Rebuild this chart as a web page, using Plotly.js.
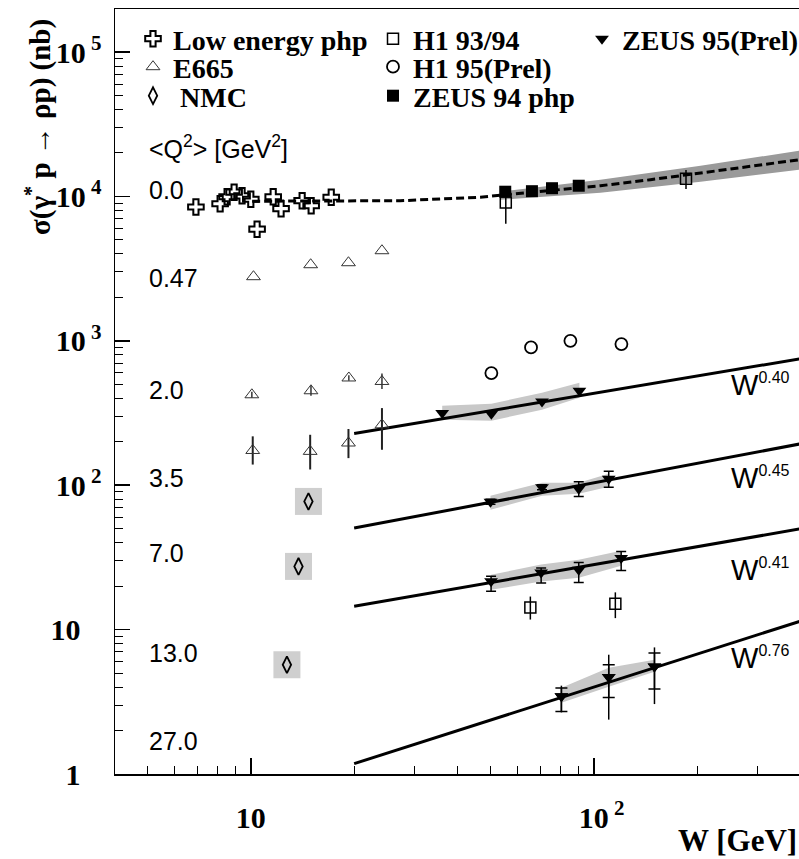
<!DOCTYPE html>
<html>
<head>
<meta charset="utf-8">
<script src="https://cdn.plot.ly/plotly-3.0.1.min.js"></script>
<style>html,body{margin:0;padding:0;background:#fff;}</style>
</head>
<body>
<div id="chart" style="width:799px;height:859px;"></div>
<script>
// ---------------- data ----------------
// Low energy photoproduction (Q2 = 0)
const lowE_W   = [6.92, 8.14, 8.53, 8.94, 9.43, 10.0, 10.43, 11.62, 12.25, 14.11, 14.99, 17.15];
const lowE_sig = [8450, 8900, 9950, 10700, 10100, 9560, 5930, 9950, 8220, 9340, 8620, 9870];

// Photoproduction model curve (dashed) and its band
const php_fit_W   = [10.09, 17.03, 27.24, 46.6, 74.6, 104.3, 145.9, 204.2, 285.6, 396.8];
const php_fit_sig = [9265, 9265, 9337, 9874, 10950, 11860, 13050, 14480, 16190, 17960];
const php_band_W  = [53.3, 104.3, 204.2, 396.8];
const php_band_hi = [10780, 13050, 16320, 20730];
const php_band_lo = [9489, 10608, 12644, 15303];

// ZEUS 94 php
const zeus94_W   = [55.1, 65.9, 75.4, 90.2];
const zeus94_sig = [10780, 10870, 11400, 11860];

// H1 93/94
const h1_9394_W   = [55.3, 185.2, 65.2, 115.3];
const h1_9394_sig = [9090, 13260, 14.24, 15.11];
const h1_9394_ep  = [1500, 2000, 2.7, 3.0];
const h1_9394_em  = [2620, 2000, 2.5, 3.1];

// H1 95 (Prel), Q2 = 0.47
const h1_95_W   = [50.2, 65.5, 85.3, 120.1];
const h1_95_sig = [598, 900, 1000, 950];

// E665
const e665_047_W   = [10.18, 14.94, 19.25, 24.1];
const e665_047_sig = [2780, 3365, 3474, 4207];
const e665_20_W    = [10.07, 14.97, 19.3, 24.1];
const e665_20_sig  = [423, 451, 553, 523];
const e665_20_ep   = [20, 35, 25, 70];
const e665_20_em   = [20, 35, 25, 60];
const e665_35_W    = [10.13, 14.89, 19.25, 24.1];
const e665_35_sig  = [174, 171.5, 196, 262];
const e665_35_ep   = [44, 52, 49, 80];
const e665_35_em   = [35, 43, 42, 86];

// NMC
const nmc_W   = [14.72, 13.77, 12.74];
const nmc_sig = [77.2, 27.4, 5.71];

// ZEUS 95 (Prel)
const z_20_W = [36.1, 50.2, 70.5, 90.6];
const z_20_sig = [316, 313, 380, 451];
const z_20_err = [10, 10, 12, 18];
const z_20_hi = [355, 367, 437, 513];
const z_20_lo = [284, 280, 333, 404];

const z_35_W = [49.9, 70.5, 90.2, 110.3];
const z_35_sig = [76.9, 96.9, 94.6, 110.9];
const z_35_err = [3, 4, 11, 14];
const z_35_hi = [84.6, 104.1, 104.1, 120.1];
const z_35_lo = [67.7, 84.6, 87.3, 97.6];

const z_70_W = [50.1, 70.1, 90.2, 119.9];
const z_70_sig = [21.6, 24.9, 26.0, 31.3];
const z_70_ep = [1.8, 1.8, 3.2, 3.5];
const z_70_em = [3.2, 3.9, 4.8, 5.6];
const z_70_hi = [24.0, 28.2, 30.5, 35.2];
const z_70_lo = [18.9, 21.5, 22.9, 27.7];

const z_27_W = [80.3, 110.3, 149.9];
const z_27_sig = [3.45, 4.70, 5.56];
const z_27_tot_ep = [0.64, 2.0, 1.97];
const z_27_tot_em = [0.78, 2.32, 2.51];
const z_27_stat_ep = [0.49, 1.01, 1.33];
const z_27_stat_em = [0.74, 1.31, 1.68];
const z_27_hi = [3.96, 5.45, 6.19];
const z_27_lo = [3.12, 4.02, 5.11];

// Power-law fits W^lambda (end points)
const fit_W = [20, 396.8];
const fit_20 = [228, 750];
const fit_35 = [50.5, 192.9];
const fit_70 = [14.5, 49.8];
const fit_27 = [1.18, 11.4];

// labels
const q2_labels = ['0.0', '0.47', '2.0', '3.5', '7.0', '13.0', '27.0'];
const q2_label_py = [190, 278, 390, 478, 553, 653, 741];
const fit_labels = ['0.40', '0.45', '0.41', '0.76'];
const fit_label_py = [385, 478, 570, 658];
const yTickVals = [1, 10, 100, 1000, 1e4, 1e5];
const yTickText = ['1\u2002\u2009', '10\u2002\u2009', '10<sup> 2</sup>', '10<sup> 3</sup>', '10<sup> 4</sup>', '10<sup> 5</sup>'];
const xTickVals = [10, 100];
const xTickText = ['10', '\u200210<sup> 2</sup>'];

// ---------------- helpers ----------------
const BLACK = '#000';
function band(W, hi, lo, color) {
  return {x: W.concat(W.slice().reverse()), y: hi.concat(lo.slice().reverse()),
    type: 'scatter', mode: 'lines', fill: 'toself', fillcolor: color,
    line: {width: 0}, showlegend: false, hoverinfo: 'skip'};
}
function fitLine(W, s) {
  return {x: W, y: s, type: 'scatter', mode: 'lines', line: {color: BLACK, width: 3}, showlegend: false};
}
const legFont = {family: 'Liberation Serif', size: 28, color: BLACK, weight: 'bold'};

const traces = [
  band(php_band_W, php_band_hi, php_band_lo, '#9a9a9a'),
  band(z_20_W, z_20_hi, z_20_lo, '#c8c8c8'),
  band(z_35_W, z_35_hi, z_35_lo, '#c8c8c8'),
  band(z_70_W, z_70_hi, z_70_lo, '#c8c8c8'),
  band(z_27_W, z_27_hi, z_27_lo, '#c8c8c8'),
  {x: php_fit_W, y: php_fit_sig, type: 'scatter', mode: 'lines', line: {color: BLACK, width: 3, dash: '8px,4px'}, showlegend: false},
  fitLine(fit_W, fit_20), fitLine(fit_W, fit_35), fitLine(fit_W, fit_70), fitLine(fit_W, fit_27),
  // NMC grey boxes
  {x: nmc_W, y: nmc_sig, type: 'scatter', mode: 'markers', marker: {symbol: 'square', size: 27, color: '#cfcfcf'}, showlegend: false},
  // Low energy php
  {x: lowE_W, y: lowE_sig, type: 'scatter', mode: 'markers', name: 'Low energy php', legend: 'legend',
   marker: {symbol: 'cross-open', size: 13, color: BLACK, line: {width: 2, color: BLACK}}},
  // E665
  {x: e665_047_W, y: e665_047_sig, type: 'scatter', mode: 'markers', name: 'E665', legend: 'legend2',
   marker: {symbol: 'triangle-up-open', size: 12, color: '#333', line: {width: 1, color: '#333'}}},
  {x: e665_20_W, y: e665_20_sig, type: 'scatter', mode: 'markers', showlegend: false,
   error_y: {type: 'data', symmetric: false, array: e665_20_ep, arrayminus: e665_20_em, color: '#333', thickness: 1.5, width: 0},
   marker: {symbol: 'triangle-up-open', size: 12, color: '#333', line: {width: 1, color: '#333'}}},
  {x: e665_35_W, y: e665_35_sig, type: 'scatter', mode: 'markers', showlegend: false,
   error_y: {type: 'data', symmetric: false, array: e665_35_ep, arrayminus: e665_35_em, color: '#222', thickness: 2, width: 0},
   marker: {symbol: 'triangle-up-open', size: 12, color: '#333', line: {width: 1, color: '#333'}}},
  // NMC diamonds
  {x: nmc_W, y: nmc_sig, type: 'scatter', mode: 'markers', name: '\u00a0NMC', legend: 'legend3',
   marker: {symbol: 'diamond-tall-open', size: 12, color: BLACK, line: {width: 1.8, color: BLACK}}},
  // H1 93/94
  {x: h1_9394_W, y: h1_9394_sig, type: 'scatter', mode: 'markers', name: 'H1 93/94', legend: 'legend4',
   error_y: {type: 'data', symmetric: false, array: h1_9394_ep, arrayminus: h1_9394_em, color: BLACK, thickness: 1.5, width: 0},
   marker: {symbol: 'square-open', size: 11, color: BLACK, line: {width: 1.5, color: BLACK}}},
  // H1 95
  {x: h1_95_W, y: h1_95_sig, type: 'scatter', mode: 'markers', name: 'H1 95(Prel)', legend: 'legend5',
   marker: {symbol: 'circle-open', size: 12, color: BLACK, line: {width: 1.8, color: BLACK}}},
  // ZEUS 94 php
  {x: zeus94_W, y: zeus94_sig, type: 'scatter', mode: 'markers', name: 'ZEUS 94 php', legend: 'legend6',
   marker: {symbol: 'square', size: 12, color: BLACK}},
  // ZEUS 95
  {x: z_20_W, y: z_20_sig, type: 'scatter', mode: 'markers', name: 'ZEUS 95(Prel)', legend: 'legend7',
   error_y: {type: 'data', array: z_20_err, color: BLACK, thickness: 1.5, width: 0},
   marker: {symbol: 'triangle-down', size: 12, color: BLACK}},
  {x: z_35_W, y: z_35_sig, type: 'scatter', mode: 'markers', showlegend: false,
   error_y: {type: 'data', array: z_35_err, color: BLACK, thickness: 1.5, width: 5},
   marker: {symbol: 'triangle-down', size: 12, color: BLACK}},
  {x: z_70_W, y: z_70_sig, type: 'scatter', mode: 'markers', showlegend: false,
   error_y: {type: 'data', symmetric: false, array: z_70_ep, arrayminus: z_70_em, color: BLACK, thickness: 1.5, width: 5},
   marker: {symbol: 'triangle-down', size: 12, color: BLACK}},
  {x: z_27_W, y: z_27_sig, type: 'scatter', mode: 'markers', showlegend: false,
   error_y: {type: 'data', symmetric: false, array: z_27_tot_ep, arrayminus: z_27_tot_em, color: BLACK, thickness: 1.5, width: 0},
   marker: {symbol: 'triangle-down', size: 12, color: BLACK}},
  {x: z_27_W, y: z_27_sig, type: 'scatter', mode: 'markers', showlegend: false,
   error_y: {type: 'data', symmetric: false, array: z_27_stat_ep, arrayminus: z_27_stat_em, color: BLACK, thickness: 1.5, width: 6},
   marker: {symbol: 'triangle-down', size: 12, color: BLACK}}
];

// ---------------- layout ----------------
const H = 859, W = 799, T = 9, B = 85, L = 115;
const plotH = H - T - B, plotW = W - L;
const py2paper = py => (H - B - py) / plotH;
const px2paper = px => (px - L) / plotW;

const annotations = [];
annotations.push({xref: 'paper', yref: 'paper', x: px2paper(147), y: py2paper(147), xanchor: 'left', yanchor: 'middle',
  text: '&lt;Q<sup>2</sup>&gt; [GeV<sup>2</sup>]', showarrow: false, font: {family: 'Liberation Sans', size: 25, color: BLACK}});
q2_labels.forEach((t, i) => annotations.push({xref: 'paper', yref: 'paper', x: px2paper(147), y: py2paper(q2_label_py[i]),
  xanchor: 'left', yanchor: 'middle', text: t, showarrow: false, font: {family: 'Liberation Sans', size: 25, color: BLACK}}));
fit_labels.forEach((t, i) => annotations.push({xref: 'paper', yref: 'paper', x: px2paper(729), y: py2paper(fit_label_py[i]),
  xanchor: 'left', yanchor: 'middle', text: 'W<sup><span style="font-size:16px">' + t + '</span></sup>', showarrow: false,
  font: {family: 'Liberation Sans', size: 29, color: BLACK}}));
annotations.push({xref: 'paper', yref: 'paper', x: px2paper(38), y: py2paper(127), xanchor: 'center', yanchor: 'middle',
  textangle: -90, text: 'σ(γ<sup>*</sup> p → ρp) (nb)', showarrow: false,
  font: {family: 'Liberation Serif', size: 29, color: BLACK, weight: 'bold'}});
annotations.push({xref: 'paper', yref: 'paper', x: 1, y: py2paper(841), xanchor: 'right', yanchor: 'middle',
  text: 'W [GeV]', showarrow: false, font: {family: 'Liberation Serif', size: 31, color: BLACK, weight: 'bold'}});

function leg(textX, cy) {
  return {xref: 'paper', yref: 'paper', x: px2paper(textX - 40), y: py2paper(cy), xanchor: 'left', yanchor: 'middle',
    bgcolor: 'rgba(0,0,0,0)', borderwidth: 0, font: legFont};
}

const layout = {
  width: W, height: H,
  margin: {l: L, r: 0, t: T, b: B, pad: 0, autoexpand: false},
  paper_bgcolor: '#fff', plot_bgcolor: '#fff',
  showlegend: true,
  legend: leg(173, 39), legend2: leg(173, 67), legend3: leg(173, 96),
  legend4: leg(413, 39), legend5: leg(413, 67), legend6: leg(413, 96),
  legend7: leg(622, 39),
  xaxis: {type: 'log', range: [0.6044, 2.5968], showline: true, linecolor: BLACK, linewidth: 1.5, mirror: true,
    ticks: 'inside', ticklen: 16, tickwidth: 1.5, tickcolor: BLACK, tickmode: 'array', tickvals: xTickVals, ticktext: xTickText,
    tickfont: {family: 'Liberation Serif', size: 30, color: BLACK, weight: 'bold'}, ticklabelstandoff: 16,
    showgrid: false, zeroline: false, automargin: false,
    minor: {ticks: 'inside', ticklen: 8, tickwidth: 1, tickcolor: BLACK, tickmode: 'array',
      tickvals: [5, 6, 7, 8, 9, 20, 30, 40, 50, 60, 70, 80, 90, 200, 300], showgrid: false}},
  yaxis: {type: 'log', range: [0, 5.298], showline: true, linecolor: BLACK, linewidth: 1.5, mirror: false,
    ticks: 'inside', ticklen: 15, tickwidth: 1.5, tickcolor: BLACK, tickmode: 'array', tickvals: yTickVals, ticktext: yTickText,
    tickfont: {family: 'Liberation Serif', size: 30, color: BLACK, weight: 'bold'}, ticklabelstandoff: 6,
    showgrid: false, zeroline: false, automargin: false,
    minor: {ticks: 'inside', ticklen: 8, tickwidth: 1, tickcolor: BLACK, tickmode: 'array',
      tickvals: [2,3,4,5,6,7,8,9,20,30,40,50,60,70,80,90,200,300,400,500,600,700,800,900,
                 2000,3000,4000,5000,6000,7000,8000,9000,20000,30000,40000,50000,60000,70000,80000,90000,
                 200000], showgrid: false}},
  annotations: annotations
};

Plotly.newPlot('chart', traces, layout, {displayModeBar: false, staticPlot: true});
</script>
</body>
</html>
